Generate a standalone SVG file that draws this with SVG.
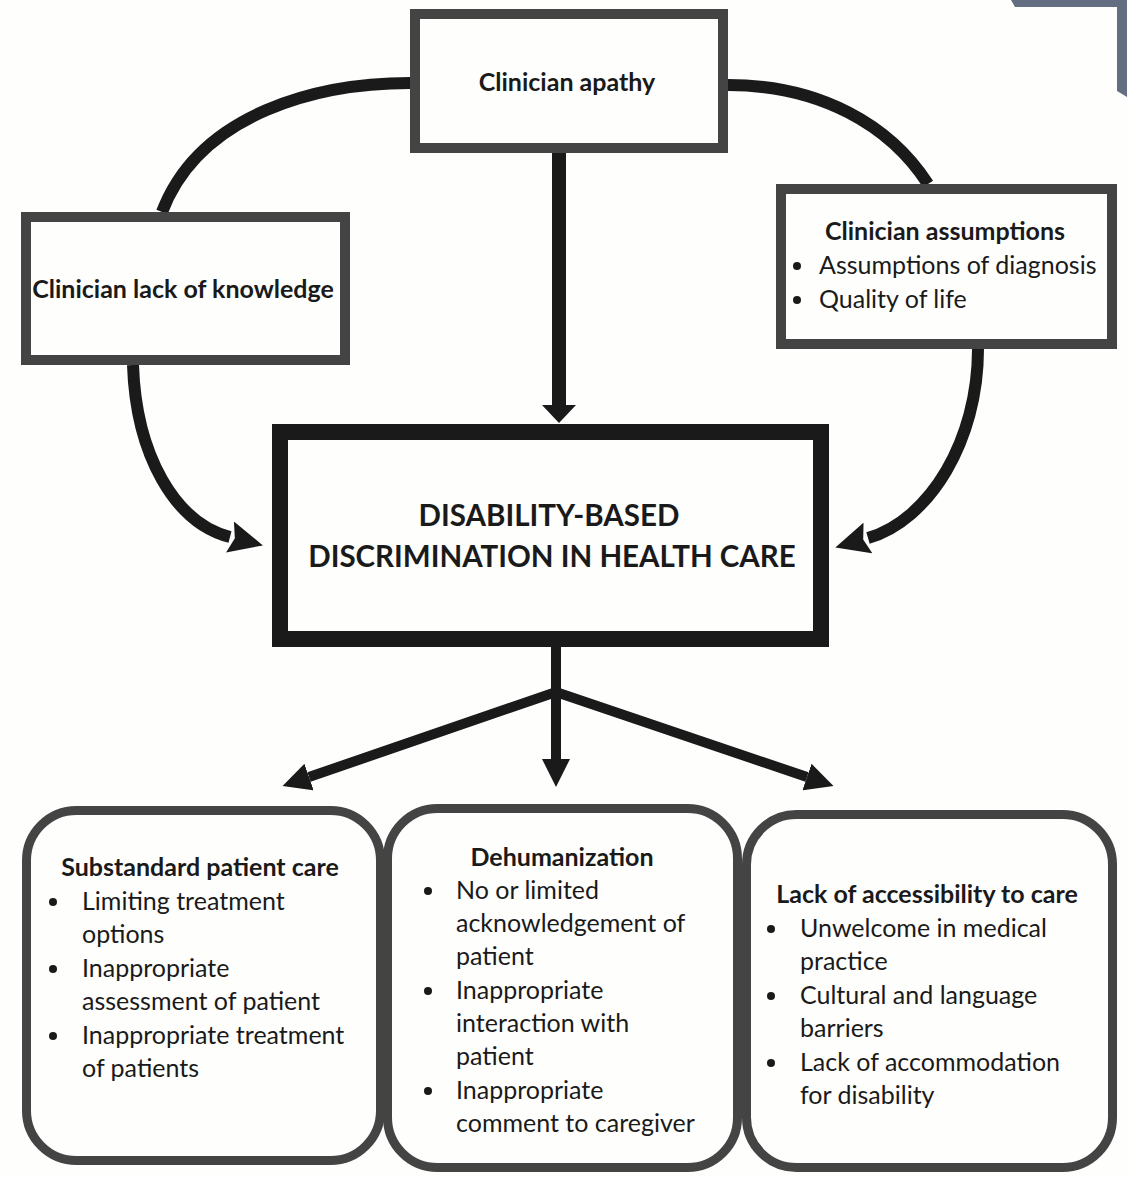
<svg xmlns="http://www.w3.org/2000/svg" width="1127" height="1178" viewBox="0 0 1127 1178">
<style>
.box{fill:#fefefd;stroke:#444444;stroke-width:10}
.rbox{fill:#fefefd;stroke:#444444;stroke-width:9}
.main{fill:#fefefd;stroke:#1a1a1a;stroke-width:16}
.t{font-family:Lato,"Open Sans",sans-serif;fill:#1a1a1a}
.b{font-weight:bold;font-size:25px}
.r{font-size:25px}
.big{font-weight:bold;font-size:29.5px}
.c{text-anchor:middle}
.ln{fill:none;stroke:#1a1a1a}
.dot{fill:#1a1a1a}
</style>
<defs>
<marker id="aTop" markerUnits="userSpaceOnUse" viewBox="0 0 18 34" markerWidth="18" markerHeight="34" refX="0" refY="17" orient="auto"><path d="M0,0 L18,17 L0,34 z" fill="#1a1a1a"/></marker>
<marker id="aCurve" markerUnits="userSpaceOnUse" viewBox="0 0 34 32" markerWidth="34" markerHeight="32" refX="0" refY="16" orient="auto"><path d="M0,0 L34,16 L0,32 L5,16 z" fill="#1a1a1a"/></marker>
<marker id="aBot" markerUnits="userSpaceOnUse" viewBox="0 0 28 28" markerWidth="28" markerHeight="28" refX="0" refY="14" orient="auto-start-reverse"><path d="M0,0 L28,14 L0,28 z" fill="#1a1a1a"/></marker>
</defs>
<rect width="1127" height="1178" fill="#fefefd"/>
<polygon points="1011,0 1127,0 1127,97 1117,91 1117,7 1015,7" fill="#636e80"/>
<g id="connectors">
<path class="ln" stroke-width="12" d="M410,83 C320,83 200,112 162,212"/>
<path class="ln" stroke-width="12" d="M728,85 C820,85 890,125 928,184"/>
<path class="ln" stroke-width="14" d="M559,153 L559,405" marker-end="url(#aTop)"/>
<path class="ln" stroke-width="12" d="M133,365 C136,455 175,523 230,537" marker-end="url(#aCurve)"/>
<path class="ln" stroke-width="12" d="M978,349 C978,440 930,520 868,538" marker-end="url(#aCurve)"/>
<path class="ln" stroke-width="10" d="M556,647 L556,759" marker-end="url(#aBot)"/>
<path class="ln" stroke-width="10" stroke-linejoin="miter" d="M309,777 L556,692 L807,777" marker-start="url(#aBot)" marker-end="url(#aBot)"/>
</g>
<g id="apathy">
<rect class="box" x="415" y="14" width="308" height="134"/>
<text class="t b c" x="567" y="91">Clinician apathy</text>
</g>
<g id="knowledge">
<rect class="box" x="26" y="217" width="319" height="143"/>
<text class="t b c" x="183" y="298">Clinician lack of knowledge</text>
</g>
<g id="assumptions">
<rect class="box" x="781" y="189" width="331" height="155"/>
<text class="t b c" x="945" y="240">Clinician assumptions</text>
<circle class="dot" cx="797" cy="266" r="4"/>
<circle class="dot" cx="797" cy="300" r="4"/>
<text class="t r" x="819" y="274">Assumptions of diagnosis</text>
<text class="t r" x="819" y="308">Quality of life</text>
</g>
<g id="discrimination">
<rect class="main" x="280" y="432" width="541" height="207"/>
<text class="t big c" x="549" y="526">DISABILITY-BASED</text>
<text class="t big c" x="552" y="567">DISCRIMINATION IN HEALTH CARE</text>
</g>
<g id="substandard">
<rect class="rbox" x="26.5" y="810.5" width="354" height="350" rx="50"/>
<text class="t b c" x="200" y="876">Substandard patient care</text>
<circle class="dot" cx="53" cy="902" r="4"/>
<circle class="dot" cx="53" cy="969" r="4"/>
<circle class="dot" cx="53" cy="1036" r="4"/>
<text class="t r" x="82" y="910">Limiting treatment</text>
<text class="t r" x="82" y="943">options</text>
<text class="t r" x="82" y="977">Inappropriate</text>
<text class="t r" x="82" y="1010">assessment of patient</text>
<text class="t r" x="82" y="1044">Inappropriate treatment</text>
<text class="t r" x="82" y="1077">of patients</text>
</g>
<g id="dehumanization">
<rect class="rbox" x="387.5" y="808.5" width="350" height="359" rx="50"/>
<text class="t b c" x="562" y="866">Dehumanization</text>
<circle class="dot" cx="428" cy="891" r="4"/>
<circle class="dot" cx="428" cy="991" r="4"/>
<circle class="dot" cx="428" cy="1091" r="4"/>
<text class="t r" x="456" y="899">No or limited</text>
<text class="t r" x="456" y="932">acknowledgement of</text>
<text class="t r" x="456" y="965">patient</text>
<text class="t r" x="456" y="999">Inappropriate</text>
<text class="t r" x="456" y="1032">interaction with</text>
<text class="t r" x="456" y="1065">patient</text>
<text class="t r" x="456" y="1099">Inappropriate</text>
<text class="t r" x="456" y="1132">comment to caregiver</text>
</g>
<g id="accessibility">
<rect class="rbox" x="746.5" y="814.5" width="366" height="353" rx="50"/>
<text class="t b c" x="927" y="903">Lack of accessibility to care</text>
<circle class="dot" cx="771" cy="929" r="4"/>
<circle class="dot" cx="771" cy="996" r="4"/>
<circle class="dot" cx="771" cy="1063" r="4"/>
<text class="t r" x="800" y="937">Unwelcome in medical</text>
<text class="t r" x="800" y="970">practice</text>
<text class="t r" x="800" y="1004">Cultural and language</text>
<text class="t r" x="800" y="1037">barriers</text>
<text class="t r" x="800" y="1071">Lack of accommodation</text>
<text class="t r" x="800" y="1104">for disability</text>
</g>
</svg>
